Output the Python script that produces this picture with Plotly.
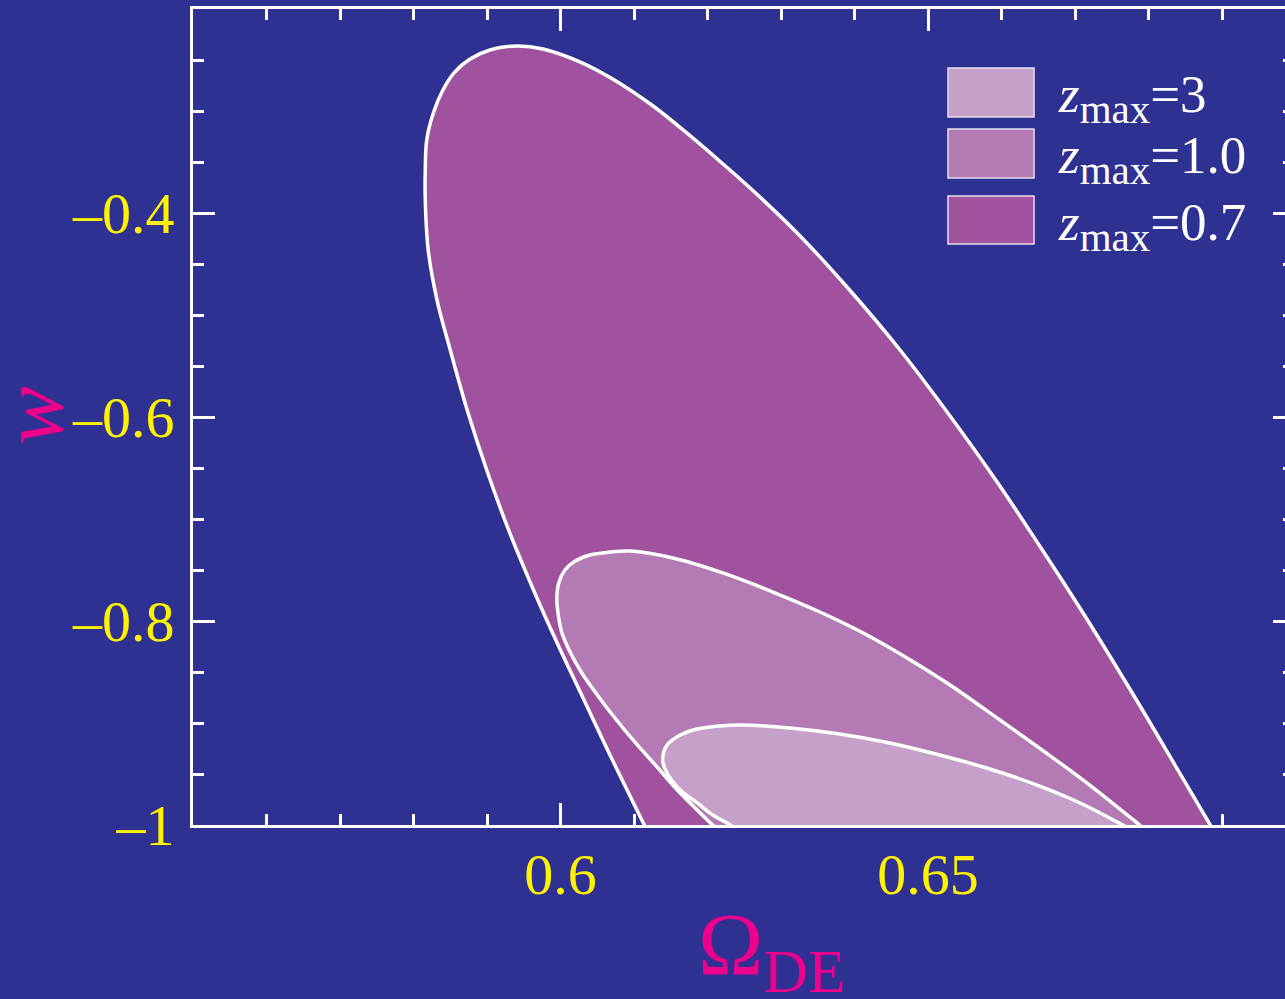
import plotly.graph_objects as go

# ---------------- data ----------------
# confidence contour for z_max = 0.7 (outer)
outer_omega = [0.6127, 0.6114, 0.6066, 0.6032, 0.5998, 0.5965, 0.5931, 0.5901, 0.5873, 0.5850,
               0.5832, 0.5820, 0.5816, 0.5816, 0.5818, 0.5827, 0.5840, 0.5856, 0.5877, 0.5904,
               0.5941, 0.5976, 0.6027, 0.6071, 0.6126, 0.6175, 0.6218, 0.6261, 0.6322, 0.6391,
               0.6462, 0.6530, 0.6595, 0.6652, 0.6711, 0.6782, 0.6836, 0.6884, 0.6900]
outer_w = [-1.0196, -1.0, -0.9294, -0.8775, -0.8255, -0.7725, -0.7137, -0.6549, -0.5931, -0.5343,
           -0.4853, -0.4363, -0.3873, -0.3578, -0.3284, -0.302, -0.2794, -0.2618, -0.249, -0.2402,
           -0.2363, -0.2392, -0.252, -0.2686, -0.2951, -0.3235, -0.350, -0.3775, -0.4196, -0.4735,
           -0.5343, -0.599, -0.6647, -0.7265, -0.7922, -0.8755, -0.9412, -1.0, -1.0196]

# confidence contour for z_max = 1.0 (middle)
mid_omega = [0.6237, 0.6207, 0.6186, 0.6159, 0.6129, 0.6101, 0.6074, 0.6050, 0.6029, 0.6013,
             0.6002, 0.5997, 0.5995, 0.5998, 0.6006, 0.6020, 0.6040, 0.6067, 0.6095, 0.6153,
             0.6221, 0.6289, 0.6353, 0.6417, 0.6476, 0.6530, 0.6598, 0.6659, 0.6720, 0.6788,
             0.6821]
mid_w = [-1.0196, -1.0, -0.9853, -0.9657, -0.9412, -0.9186, -0.8951, -0.8725, -0.851, -0.8304,
         -0.8118, -0.7941, -0.7775, -0.7618, -0.750, -0.7412, -0.7353, -0.7324, -0.7314, -0.7382,
         -0.7529, -0.7716, -0.7912, -0.8137, -0.8382, -0.8627, -0.8971, -0.9284, -0.9608, -1.0,
         -1.0196]

# confidence contour for z_max = 3 (inner)
inner_omega = [0.6265, 0.6231, 0.6207, 0.6186, 0.6163, 0.6145, 0.6139, 0.6145, 0.6163, 0.6186,
               0.6217, 0.6244, 0.6312, 0.6380, 0.6448, 0.6516, 0.6584, 0.6652, 0.6707, 0.6765,
               0.6813]
inner_w = [-1.0196, -1.0, -0.9902, -0.9784, -0.9657, -0.949, -0.9363, -0.9216, -0.9118, -0.9059,
           -0.9029, -0.902, -0.9049, -0.9108, -0.9196, -0.9314, -0.9451, -0.9618, -0.9784, -1.0,
           -1.0196]

series_labels = ["3", "1.0", "0.7"]          # legend order, top to bottom
series_colors = ["#C5A0C8", "#B47AB3", "#A0529F"]

x_tickvals = [0.6, 0.65]
x_ticktext = ["0.6", "0.65"]
y_tickvals = [-1.0, -0.8, -0.6, -0.4]
y_ticktext = ["\u20131", "\u20130.8", "\u20130.6", "\u20130.4"]

# ---------------- style ----------------
BG = "#2E3192"
YELLOW = "#FFF200"
MAGENTA = "#EC008C"
SERIF = "Liberation Serif, Times New Roman, serif"

W, H = 1285, 999
ML, MR, MT, MB = 193, 0, 9, 174
PW, PH = W - ML - MR, H - MT - MB
X_RANGE = [0.55, 0.55 + PW / 7350.0]
Y_RANGE = [-1.0, -0.2]


def pxx(px):
    return (px - ML) / PW


def pxy(py):
    return (H - MB - py) / PH


fig = go.Figure()

contours = [(outer_omega, outer_w, series_colors[2]),
            (mid_omega, mid_w, series_colors[1]),
            (inner_omega, inner_w, series_colors[0])]
for xs, ys, col in contours:
    fig.add_trace(go.Scatter(
        x=xs, y=ys, mode="lines", fill="toself", fillcolor=col,
        line=dict(color="white", width=3.5, shape="spline", smoothing=1.0),
        hoverinfo="skip", showlegend=False))

# empty trace so that the right-hand tick axis is drawn
fig.add_trace(go.Scatter(x=[None], y=[None], yaxis="y2", mode="lines",
                         hoverinfo="skip", showlegend=False))

tickfont = dict(family=SERIF, size=58, color=YELLOW)

fig.update_layout(
    xaxis=dict(
        range=X_RANGE, showline=True, linecolor="white", linewidth=3, mirror="ticks",
        ticks="inside", ticklen=22, tickwidth=2.5, tickcolor="white",
        showgrid=False, zeroline=False, layer="below traces", tickfont=tickfont,
        tickmode="array", tickvals=x_tickvals, ticktext=x_ticktext,
        minor=dict(tickmode="linear", tick0=0.55, dtick=0.01, ticks="inside",
                   ticklen=11, tickwidth=2.5, tickcolor="white", showgrid=False),
        ticklabelstandoff=-4),
    yaxis=dict(
        range=Y_RANGE, showline=True, linecolor="white", linewidth=3, mirror=False,
        ticks="inside", ticklen=22, tickwidth=2.5, tickcolor="white",
        showgrid=False, zeroline=False, layer="below traces", tickfont=tickfont,
        tickmode="array", tickvals=y_tickvals, ticktext=y_ticktext,
        minor=dict(tickmode="linear", tick0=-1.0, dtick=0.05, ticks="inside",
                   ticklen=11, tickwidth=2.5, tickcolor="white", showgrid=False),
        ticklabelstandoff=4),
    # right-hand frame ticks (the frame's right edge sits just past the picture)
    yaxis2=dict(
        range=Y_RANGE, overlaying="y", side="right", anchor="x",
        showline=False, ticks="inside", ticklen=12, tickwidth=2.5, tickcolor="white",
        showgrid=False, zeroline=False, layer="below traces", showticklabels=False,
        tickmode="array", tickvals=y_tickvals,
        minor=dict(tickmode="linear", tick0=-1.0, dtick=0.05, ticks="inside",
                   ticklen=2, tickwidth=2.5, tickcolor="white", showgrid=False)),
)

shapes = []
annotations = []
box_tops = [68, 129, 196]
box_bots = [117, 178, 244]
for lab, col, t, b in zip(series_labels, series_colors, box_tops, box_bots):
    shapes.append(dict(type="rect", xref="paper", yref="paper",
                       x0=pxx(948), x1=pxx(1034), y0=pxy(b), y1=pxy(t),
                       fillcolor=col, line=dict(color="#E6DDEE", width=1.5),
                       layer="above"))
    annotations.append(dict(
        xref="paper", yref="paper", x=pxx(1056), y=pxy((t + b) / 2 + 6),
        xanchor="left", yanchor="middle", showarrow=False,
        text="<i>z</i><sub><span style='font-size:41px'>max</span></sub>=" + lab,
        font=dict(family=SERIF, size=53, color="white")))

# axis titles
annotations.append(dict(
    xref="paper", yref="paper", x=pxx(772), y=pxy(951),
    xanchor="center", yanchor="middle", showarrow=False,
    text="\u03A9<sub>DE</sub>", font=dict(family=SERIF, size=88, color=MAGENTA)))
annotations.append(dict(
    xref="paper", yref="paper", x=pxx(32), y=pxy(416),
    xanchor="center", yanchor="middle", showarrow=False, textangle=-90,
    text="<i>w</i>", font=dict(family=SERIF, size=88, color=MAGENTA)))

fig.update_layout(
    width=W, height=H, autosize=False,
    margin=dict(l=ML, r=MR, t=MT, b=MB, pad=0),
    paper_bgcolor=BG, plot_bgcolor=BG,
    showlegend=False, shapes=shapes, annotations=annotations,
    font=dict(family=SERIF),
)

fig.write_html("out.html",
               config={"displayModeBar": False},
               post_script="document.body.style.margin='0';"
                           "document.body.style.overflow='hidden';")
